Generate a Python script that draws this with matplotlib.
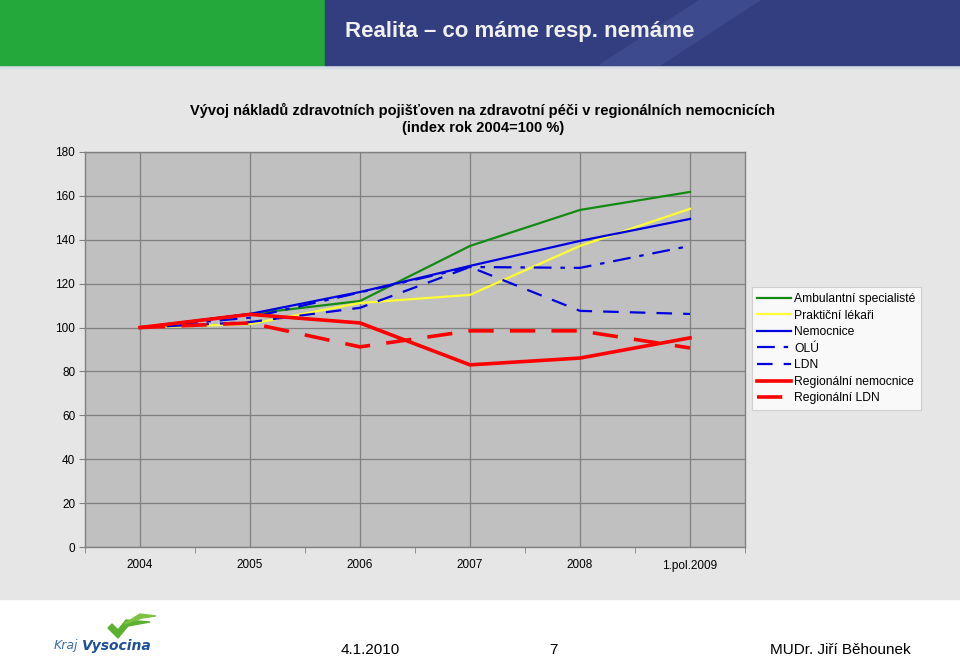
import matplotlib.pyplot as plt
from matplotlib.patches import Rectangle, Polygon

years = ["2004", "2005", "2006", "2007", "2008", "1.pol.2009"]

ambulantni = [100, 106.2, 112.1, 137.2, 153.6, 161.8]
prakticni = [100, 101.6, 111.2, 114.9, 137.2, 154.1]
nemocnice = [100, 106.2, 116.2, 128.1, 139.5, 149.5]
olu = [100, 104.5, 116.0, 127.6, 127.2, 137.2]
ldn = [100, 102.5, 109.0, 127.6, 107.6, 106.2]
reg_nemocnice = [100, 106.0, 102.1, 83.0, 86.1, 95.3]
reg_ldn = [100, 102.1, 91.2, 98.5, 98.5, 90.7]

W, H = 960, 657
fig = plt.figure(figsize=(9.6, 6.57), dpi=100)
fig.patch.set_facecolor("white")

# slide background pieces (figure pixel coords)
bg = fig.add_axes([0, 0, 1, 1])
bg.set_xlim(0, W)
bg.set_ylim(H, 0)
bg.axis("off")
bg.add_patch(Rectangle((0, 65), W, 534, color="#E6E6E6", zorder=0))
bg.add_patch(Rectangle((0, 65), W, 3, color="#D8DCE4", zorder=0))
bg.add_patch(Rectangle((0, 0), 325, 65, color="#24A83C", zorder=1))
bg.add_patch(Rectangle((325, 0), 635, 65, color="#333E80", zorder=1))
bg.add_patch(Polygon([[600, 65], [700, 0], [760, 0], [660, 65]], closed=True,
                     color="#3D4A8E", zorder=1))
bg.text(345, 31, "Realita – co máme resp. nemáme", color="#F0F0F0", fontsize=16,
        fontweight="bold", va="center", ha="left",
        family=["Liberation Sans Narrow", "Liberation Sans", "DejaVu Sans"], zorder=2)

# footer
bg.text(54, 646, "Kraj", color="#3A6FB0", fontsize=9, style="italic", va="center",
        family=["Liberation Sans Narrow", "DejaVu Sans"])
bg.text(82, 646, "Vysocina", color="#1D4F9A", fontsize=10, fontweight="bold",
        style="italic", va="center", family=["Liberation Sans Narrow", "DejaVu Sans"])
bg.add_patch(Polygon([[108, 628], [118, 638], [128, 626], [150, 622], [126, 620],
                      [118, 630], [112, 624]], closed=True, color="#5CB130"))
bg.add_patch(Polygon([[124, 624], [140, 614], [156, 616], [142, 618]], closed=True,
                     color="#7DC242"))
for x, s in [(370, "4.1.2010"), (553, "7"), (840, "MUDr. Jiří Běhounek")]:
    bg.text(x, 650, s, fontsize=11, ha="center", va="center", color="black",
            family=["Liberation Sans Narrow", "Liberation Sans", "DejaVu Sans"])

# chart title
bg.text(483, 110, "Vývoj nákladů zdravotních pojišťoven na zdravotní péči v regionálních nemocnicích",
        fontsize=10.5, fontweight="bold", ha="center", va="center", family="Liberation Sans")
bg.text(483, 128, "(index rok 2004=100 %)", fontsize=10.5, fontweight="bold",
        ha="center", va="center", family="Liberation Sans")

ax = fig.add_axes([85 / W, 1 - 547 / H, 660 / W, 395 / H])
ax.set_facecolor("#C0C0C0")
x = list(range(len(years)))

ax.plot(x, ambulantni, color="#138A13", lw=1.6, label="Ambulantní specialisté", zorder=3)
ax.plot(x, prakticni, color="#FFFF33", lw=1.6, label="Praktiční lékaři", zorder=3)
ax.plot(x, nemocnice, color="#0000E0", lw=1.6, label="Nemocnice", zorder=3)
ax.plot(x, olu, color="#0000E0", lw=1.6, dashes=[8, 4, 2, 4], label="OLÚ", zorder=3)
ax.plot(x, ldn, color="#0000E0", lw=1.6, dashes=[7, 5], label="LDN", zorder=3)
ax.plot(x, reg_nemocnice, color="#FF0000", lw=2.6, label="Regionální nemocnice", zorder=4)
ax.plot(x, reg_ldn, color="#FF0000", lw=2.6, dashes=[7, 4.5], label="Regionální LDN", zorder=4)

ax.set_xlim(-0.5, len(years) - 0.5)
ax.set_ylim(0, 180)
ax.set_yticks(range(0, 181, 20))
ax.set_xticks(x)
ax.set_xticklabels(years)
ax.set_xticks([i - 0.5 for i in range(len(years) + 1)], minor=True)
ax.tick_params(axis="x", which="major", length=0, pad=9)
ax.tick_params(axis="x", which="minor", length=4, color="#808080")
ax.tick_params(axis="y", length=4, color="#808080", pad=3)
for lab in ax.get_xticklabels() + ax.get_yticklabels():
    lab.set_fontsize(8.5)
    lab.set_family("Liberation Sans")
ax.grid(True, which="major", color="#808080", lw=0.9)
for sp in ax.spines.values():
    sp.set_color("#808080")
    sp.set_linewidth(1)

leg = ax.legend(loc="upper left", bbox_to_anchor=(1.01, 0.657), frameon=True,
                fancybox=False, prop={"family": "Liberation Sans", "size": 8.7},
                handlelength=2.8, handletextpad=0.25, labelspacing=0.38,
                borderpad=0.45, borderaxespad=0)
leg.get_frame().set_facecolor("white")
leg.get_frame().set_edgecolor("#C8C8C8")
leg.get_frame().set_linewidth(0.8)

fig.savefig("out.png", dpi=100, facecolor=fig.get_facecolor())
